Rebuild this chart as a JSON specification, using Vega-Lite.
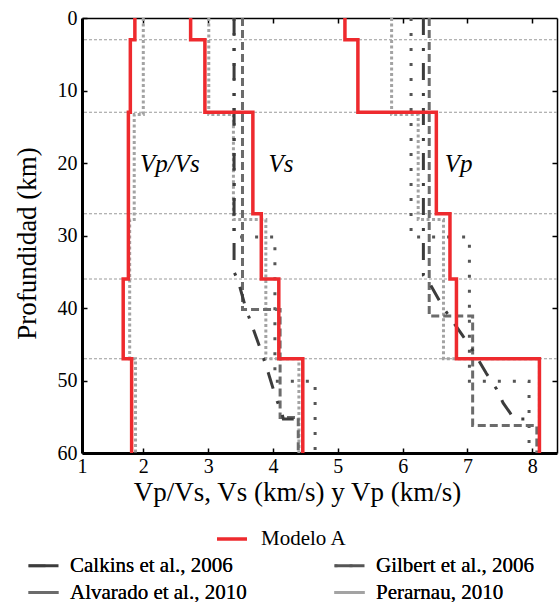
{
  "$schema": "https://vega.github.io/schema/vega-lite/v6.json",
  "width": 475,
  "height": 435,
  "autosize": {"type": "none"},
  "padding": {"left": 82, "top": 18, "right": 2, "bottom": 149},
  "background": "white",
  "config": {
    "font": "serif",
    "view": {"stroke": null},
    "axis": {"grid": false, "labelFont": "serif", "titleFont": "serif", "labelColor": "black", "titleColor": "black", "domainColor": "black", "tickColor": "black", "titleFontWeight": "normal"},
    "legend": {"labelFont": "serif", "labelColor": "black", "padding": 0, "labelLimit": 400}
  },
  "datasets": {
    "grid": [{"d": 3}, {"d": 13}, {"d": 27}, {"d": 36}, {"d": 47}],
    "anot": [
      {"t": "Vp/Vs", "v": 1.95, "d": 21.2},
      {"t": "Vs", "v": 3.93, "d": 21.2},
      {"t": "Vp", "v": 6.65, "d": 21.2}
    ],
    "modelo": [
      {"f": "Modelo A", "s": "A-VpVs", "i": 1, "d": 0, "v": 1.87},
      {"f": "Modelo A", "s": "A-VpVs", "i": 2, "d": 3, "v": 1.87},
      {"f": "Modelo A", "s": "A-VpVs", "i": 3, "d": 3, "v": 1.8},
      {"f": "Modelo A", "s": "A-VpVs", "i": 4, "d": 13, "v": 1.8},
      {"f": "Modelo A", "s": "A-VpVs", "i": 5, "d": 13, "v": 1.77},
      {"f": "Modelo A", "s": "A-VpVs", "i": 6, "d": 36, "v": 1.77},
      {"f": "Modelo A", "s": "A-VpVs", "i": 7, "d": 36, "v": 1.69},
      {"f": "Modelo A", "s": "A-VpVs", "i": 8, "d": 47, "v": 1.69},
      {"f": "Modelo A", "s": "A-VpVs", "i": 9, "d": 47, "v": 1.82},
      {"f": "Modelo A", "s": "A-VpVs", "i": 10, "d": 60, "v": 1.82},
      {"f": "Modelo A", "s": "A-Vs", "i": 1, "d": 0, "v": 2.73},
      {"f": "Modelo A", "s": "A-Vs", "i": 2, "d": 3, "v": 2.73},
      {"f": "Modelo A", "s": "A-Vs", "i": 3, "d": 3, "v": 2.95},
      {"f": "Modelo A", "s": "A-Vs", "i": 4, "d": 13, "v": 2.95},
      {"f": "Modelo A", "s": "A-Vs", "i": 5, "d": 13, "v": 3.69},
      {"f": "Modelo A", "s": "A-Vs", "i": 6, "d": 27, "v": 3.69},
      {"f": "Modelo A", "s": "A-Vs", "i": 7, "d": 27, "v": 3.82},
      {"f": "Modelo A", "s": "A-Vs", "i": 8, "d": 36, "v": 3.82},
      {"f": "Modelo A", "s": "A-Vs", "i": 9, "d": 36, "v": 4.09},
      {"f": "Modelo A", "s": "A-Vs", "i": 10, "d": 47, "v": 4.09},
      {"f": "Modelo A", "s": "A-Vs", "i": 11, "d": 47, "v": 4.46},
      {"f": "Modelo A", "s": "A-Vs", "i": 12, "d": 60, "v": 4.46},
      {"f": "Modelo A", "s": "A-Vp", "i": 1, "d": 0, "v": 5.11},
      {"f": "Modelo A", "s": "A-Vp", "i": 2, "d": 3, "v": 5.11},
      {"f": "Modelo A", "s": "A-Vp", "i": 3, "d": 3, "v": 5.31},
      {"f": "Modelo A", "s": "A-Vp", "i": 4, "d": 13, "v": 5.31},
      {"f": "Modelo A", "s": "A-Vp", "i": 5, "d": 13, "v": 6.52},
      {"f": "Modelo A", "s": "A-Vp", "i": 6, "d": 27, "v": 6.52},
      {"f": "Modelo A", "s": "A-Vp", "i": 7, "d": 27, "v": 6.73},
      {"f": "Modelo A", "s": "A-Vp", "i": 8, "d": 36, "v": 6.73},
      {"f": "Modelo A", "s": "A-Vp", "i": 9, "d": 36, "v": 6.83},
      {"f": "Modelo A", "s": "A-Vp", "i": 10, "d": 47, "v": 6.83},
      {"f": "Modelo A", "s": "A-Vp", "i": 11, "d": 47, "v": 8.11},
      {"f": "Modelo A", "s": "A-Vp", "i": 12, "d": 60, "v": 8.11}
    ],
    "otros": [
      {"f": "Perarnau, 2010", "s": "P-VpVs", "i": 1, "d": 0, "v": 2.0},
      {"f": "Perarnau, 2010", "s": "P-VpVs", "i": 2, "d": 13.3, "v": 2.0},
      {"f": "Perarnau, 2010", "s": "P-VpVs", "i": 3, "d": 13.3, "v": 1.86},
      {"f": "Perarnau, 2010", "s": "P-VpVs", "i": 4, "d": 27.8, "v": 1.86},
      {"f": "Perarnau, 2010", "s": "P-VpVs", "i": 5, "d": 27.8, "v": 1.79},
      {"f": "Perarnau, 2010", "s": "P-VpVs", "i": 6, "d": 47, "v": 1.79},
      {"f": "Perarnau, 2010", "s": "P-VpVs", "i": 7, "d": 47, "v": 1.88},
      {"f": "Perarnau, 2010", "s": "P-VpVs", "i": 8, "d": 60, "v": 1.88},
      {"f": "Perarnau, 2010", "s": "P-Vs", "i": 1, "d": 0, "v": 3.01},
      {"f": "Perarnau, 2010", "s": "P-Vs", "i": 2, "d": 13.3, "v": 3.01},
      {"f": "Perarnau, 2010", "s": "P-Vs", "i": 3, "d": 13.3, "v": 3.39},
      {"f": "Perarnau, 2010", "s": "P-Vs", "i": 4, "d": 27.8, "v": 3.39},
      {"f": "Perarnau, 2010", "s": "P-Vs", "i": 5, "d": 27.8, "v": 3.89},
      {"f": "Perarnau, 2010", "s": "P-Vs", "i": 6, "d": 47, "v": 3.89},
      {"f": "Perarnau, 2010", "s": "P-Vs", "i": 7, "d": 47, "v": 4.4},
      {"f": "Perarnau, 2010", "s": "P-Vs", "i": 8, "d": 60, "v": 4.4},
      {"f": "Perarnau, 2010", "s": "P-Vp", "i": 1, "d": 0, "v": 5.83},
      {"f": "Perarnau, 2010", "s": "P-Vp", "i": 2, "d": 13.3, "v": 5.83},
      {"f": "Perarnau, 2010", "s": "P-Vp", "i": 3, "d": 13.3, "v": 6.24},
      {"f": "Perarnau, 2010", "s": "P-Vp", "i": 4, "d": 27.8, "v": 6.24},
      {"f": "Perarnau, 2010", "s": "P-Vp", "i": 5, "d": 27.8, "v": 6.63},
      {"f": "Perarnau, 2010", "s": "P-Vp", "i": 6, "d": 47, "v": 6.63},
      {"f": "Perarnau, 2010", "s": "P-Vp", "i": 7, "d": 47, "v": 8.11},
      {"f": "Perarnau, 2010", "s": "P-Vp", "i": 8, "d": 60, "v": 8.11},
      {"f": "Gilbert et al., 2006", "s": "G-Vs", "i": 1, "d": 0, "v": 3.4},
      {"f": "Gilbert et al., 2006", "s": "G-Vs", "i": 2, "d": 30.2, "v": 3.4},
      {"f": "Gilbert et al., 2006", "s": "G-Vs", "i": 3, "d": 30.2, "v": 4.03},
      {"f": "Gilbert et al., 2006", "s": "G-Vs", "i": 4, "d": 50.1, "v": 4.03},
      {"f": "Gilbert et al., 2006", "s": "G-Vs", "i": 5, "d": 50.1, "v": 4.65},
      {"f": "Gilbert et al., 2006", "s": "G-Vs", "i": 6, "d": 60, "v": 4.65},
      {"f": "Gilbert et al., 2006", "s": "G-Vp", "i": 1, "d": 0, "v": 6.13},
      {"f": "Gilbert et al., 2006", "s": "G-Vp", "i": 2, "d": 30.2, "v": 6.13},
      {"f": "Gilbert et al., 2006", "s": "G-Vp", "i": 3, "d": 30.2, "v": 7.03},
      {"f": "Gilbert et al., 2006", "s": "G-Vp", "i": 4, "d": 50.1, "v": 7.03},
      {"f": "Gilbert et al., 2006", "s": "G-Vp", "i": 5, "d": 50.1, "v": 7.95},
      {"f": "Gilbert et al., 2006", "s": "G-Vp", "i": 6, "d": 60, "v": 7.95},
      {"f": "Alvarado et al., 2010", "s": "Al-Vs", "i": 1, "d": 0, "v": 3.53},
      {"f": "Alvarado et al., 2010", "s": "Al-Vs", "i": 2, "d": 40.2, "v": 3.53},
      {"f": "Alvarado et al., 2010", "s": "Al-Vs", "i": 3, "d": 40.2, "v": 4.11},
      {"f": "Alvarado et al., 2010", "s": "Al-Vs", "i": 4, "d": 55.1, "v": 4.11},
      {"f": "Alvarado et al., 2010", "s": "Al-Vs", "i": 5, "d": 55.1, "v": 4.39},
      {"f": "Alvarado et al., 2010", "s": "Al-Vs", "i": 6, "d": 60, "v": 4.39},
      {"f": "Alvarado et al., 2010", "s": "Al-Vp", "i": 1, "d": 0, "v": 6.41},
      {"f": "Alvarado et al., 2010", "s": "Al-Vp", "i": 2, "d": 41.1, "v": 6.41},
      {"f": "Alvarado et al., 2010", "s": "Al-Vp", "i": 3, "d": 41.1, "v": 7.08},
      {"f": "Alvarado et al., 2010", "s": "Al-Vp", "i": 4, "d": 56.2, "v": 7.08},
      {"f": "Alvarado et al., 2010", "s": "Al-Vp", "i": 5, "d": 56.2, "v": 8.07},
      {"f": "Alvarado et al., 2010", "s": "Al-Vp", "i": 6, "d": 60, "v": 8.07},
      {"f": "Calkins et al., 2006", "s": "C-Vs", "i": 1, "d": 0, "v": 3.4},
      {"f": "Calkins et al., 2006", "s": "C-Vs", "i": 2, "d": 35, "v": 3.4},
      {"f": "Calkins et al., 2006", "s": "C-Vs", "i": 3, "d": 36.5, "v": 3.47},
      {"f": "Calkins et al., 2006", "s": "C-Vs", "i": 4, "d": 40, "v": 3.58},
      {"f": "Calkins et al., 2006", "s": "C-Vs", "i": 5, "d": 43, "v": 3.7},
      {"f": "Calkins et al., 2006", "s": "C-Vs", "i": 6, "d": 46, "v": 3.82},
      {"f": "Calkins et al., 2006", "s": "C-Vs", "i": 7, "d": 49, "v": 3.93},
      {"f": "Calkins et al., 2006", "s": "C-Vs", "i": 8, "d": 52.5, "v": 4.05},
      {"f": "Calkins et al., 2006", "s": "C-Vs", "i": 9, "d": 54.6, "v": 4.14},
      {"f": "Calkins et al., 2006", "s": "C-Vs", "i": 10, "d": 55.3, "v": 4.16},
      {"f": "Calkins et al., 2006", "s": "C-Vs", "i": 11, "d": 55.3, "v": 4.32},
      {"f": "Calkins et al., 2006", "s": "C-Vp", "i": 1, "d": 0, "v": 6.32},
      {"f": "Calkins et al., 2006", "s": "C-Vp", "i": 2, "d": 35.5, "v": 6.32},
      {"f": "Calkins et al., 2006", "s": "C-Vp", "i": 3, "d": 36.5, "v": 6.41},
      {"f": "Calkins et al., 2006", "s": "C-Vp", "i": 4, "d": 40, "v": 6.63},
      {"f": "Calkins et al., 2006", "s": "C-Vp", "i": 5, "d": 43.6, "v": 6.91},
      {"f": "Calkins et al., 2006", "s": "C-Vp", "i": 6, "d": 45.7, "v": 7.07},
      {"f": "Calkins et al., 2006", "s": "C-Vp", "i": 7, "d": 49, "v": 7.29},
      {"f": "Calkins et al., 2006", "s": "C-Vp", "i": 8, "d": 51.2, "v": 7.45},
      {"f": "Calkins et al., 2006", "s": "C-Vp", "i": 9, "d": 53.1, "v": 7.55},
      {"f": "Calkins et al., 2006", "s": "C-Vp", "i": 10, "d": 54.5, "v": 7.66},
      {"f": "Calkins et al., 2006", "s": "C-Vp", "i": 11, "d": 55.3, "v": 7.71},
      {"f": "Calkins et al., 2006", "s": "C-Vp", "i": 12, "d": 55.3, "v": 7.91}
    ]
  },
  "resolve": {
    "scale": {"color": "independent"},
    "axis": {"x": "independent", "y": "independent"},
    "legend": {"color": "independent"}
  },
  "layer": [
    {
      "data": {"name": "grid"},
      "mark": {"type": "rule", "color": "#9a9a9a", "strokeWidth": 1, "strokeDash": [3, 2]},
      "encoding": {
        "y": {"field": "d", "type": "quantitative", "scale": {"domain": [0, 60], "reverse": true, "nice": false, "zero": false}, "axis": null}
      }
    },
    {
      "data": {"name": "otros"},
      "mark": {"type": "line", "strokeWidth": 3, "strokeCap": "butt", "strokeJoin": "miter"},
      "encoding": {
        "x": {"field": "v", "type": "quantitative", "scale": {"domain": [1.0545, 8.381], "nice": false, "zero": false}, "axis": null},
        "y": {"field": "d", "type": "quantitative", "scale": {"domain": [0, 60], "reverse": true, "nice": false, "zero": false}, "axis": null},
        "detail": {"field": "s", "type": "nominal"},
        "order": {"field": "i", "type": "quantitative"},
        "color": {
          "field": "f", "type": "nominal",
          "scale": {"domain": ["Calkins et al., 2006", "Alvarado et al., 2010", "Gilbert et al., 2006", "Perarnau, 2010"], "range": ["#3c3c3c", "#6b6b6b", "#555555", "#a3a3a3"]},
          "legend": {"orient": "none", "legendX": -55, "legendY": 531, "columns": 2, "columnPadding": 81, "rowPadding": 0, "title": null, "labelFont": "serif", "labelFontSize": 21, "labelLimit": 400, "symbolSize": 900, "symbolStrokeWidth": 3, "symbolType": "stroke", "labelOffset": 10}
        },
        "strokeDash": {
          "field": "f", "type": "nominal",
          "scale": {"domain": ["Calkins et al., 2006", "Alvarado et al., 2010", "Gilbert et al., 2006", "Perarnau, 2010"], "range": [[17, 13, 3, 12], [8, 4], [3, 12], [3, 2.5]]},
          "legend": {"orient": "none", "legendX": -55, "legendY": 531, "columns": 2, "columnPadding": 81, "rowPadding": 0, "title": null, "labelFont": "serif", "labelFontSize": 21, "labelLimit": 400, "symbolSize": 900, "symbolStrokeWidth": 3, "symbolType": "stroke", "labelOffset": 10}
        }
      }
    },
    {
      "data": {"name": "modelo"},
      "mark": {"type": "line", "strokeWidth": 3.5, "strokeCap": "butt", "strokeJoin": "miter"},
      "encoding": {
        "x": {
          "field": "v", "type": "quantitative",
          "scale": {"domain": [1.0545, 8.381], "nice": false, "zero": false},
          "axis": {"orient": "bottom", "values": [1.0545, 2, 3, 4, 5, 6, 7, 8], "labelExpr": "datum.value < 1.5 ? '1' : format(datum.value, 'd')", "labelFlush": false, "labelOverlap": false, "labelFont": "serif", "labelFontSize": 20, "labelPadding": 8, "tickSize": -5, "tickWidth": 1.5, "domainWidth": 3, "title": "Vp/Vs, Vs (km/s) y Vp (km/s)", "titleFont": "serif", "titleFontSize": 27, "titleX": 215, "titleY": 47, "titleBaseline": "alphabetic", "titleAnchor": "middle", "titleAlign": "center"}
        },
        "y": {
          "field": "d", "type": "quantitative",
          "scale": {"domain": [0, 60], "reverse": true, "nice": false, "zero": false},
          "axis": {"orient": "left", "values": [0, 10, 20, 30, 40, 50, 60], "labelFont": "serif", "labelFontSize": 20, "labelPadding": 10, "tickSize": -5, "tickWidth": 1.5, "domainWidth": 3, "title": "Profundidad (km)", "titleFont": "serif", "titleFontSize": 27, "titleX": -55, "titleY": 225, "titleAngle": -90, "titleBaseline": "middle", "titleAlign": "center"}
        },
        "detail": {"field": "s", "type": "nominal"},
        "order": {"field": "i", "type": "quantitative"},
        "color": {
          "field": "f", "type": "nominal",
          "scale": {"domain": ["Modelo A"], "range": ["#ee2a2e"]},
          "legend": {"orient": "none", "legendX": 133, "legendY": 504, "title": null, "labelFont": "serif", "labelFontSize": 21, "symbolSize": 900, "symbolStrokeWidth": 3.5, "symbolType": "stroke", "labelOffset": 12}
        }
      }
    },
    {
      "data": {"name": "anot"},
      "mark": {"type": "text", "font": "serif", "fontStyle": "italic", "fontSize": 25, "align": "left", "baseline": "alphabetic", "color": "black"},
      "encoding": {
        "x": {
          "field": "v", "type": "quantitative",
          "scale": {"domain": [1.0545, 8.381], "nice": false, "zero": false},
          "axis": {"orient": "top", "values": [2, 3, 4, 5, 6, 7, 8], "labels": false, "tickSize": -5, "tickWidth": 1.5, "domainWidth": 1.5, "title": null}
        },
        "y": {
          "field": "d", "type": "quantitative",
          "scale": {"domain": [0, 60], "reverse": true, "nice": false, "zero": false},
          "axis": {"orient": "right", "values": [10, 20, 30, 40, 50], "labels": false, "tickSize": -5, "tickWidth": 1.5, "domainWidth": 1.5, "title": null}
        },
        "text": {"field": "t", "type": "nominal"}
      }
    }
  ]
}
